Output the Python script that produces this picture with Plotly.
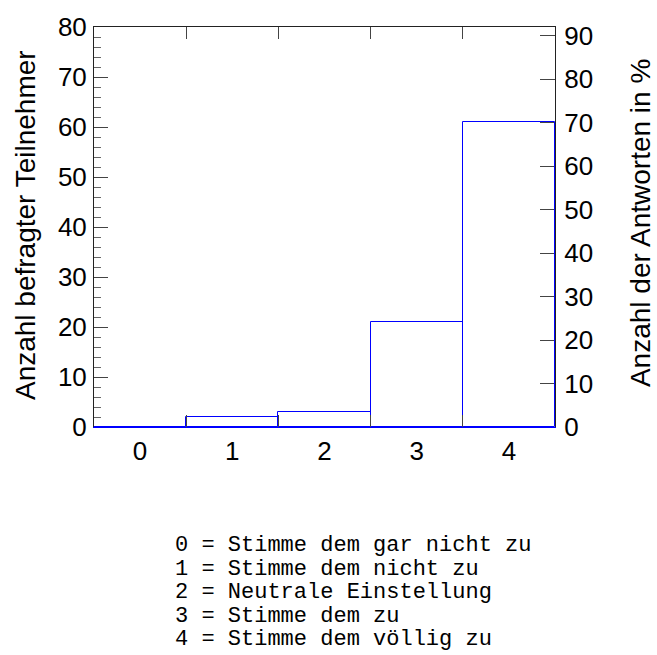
import plotly.graph_objects as go

# ---- data ----
categories = [0, 1, 2, 3, 4]
counts = [0, 2, 3, 21, 61]
category_labels = ["0", "1", "2", "3", "4"]
bin_edges = [0.5, 1.5, 2.5, 3.5]
legend_lines = [
    "0 = Stimme dem gar nicht zu",
    "1 = Stimme dem nicht zu",
    "2 = Neutrale Einstellung",
    "3 = Stimme dem zu",
    "4 = Stimme dem völlig zu",
]
y_title_left = "Anzahl befragter Teilnehmer"
y_title_right = "Anzahl der Antworten in %"

total = sum(counts)
y_max = 80
pct_max = y_max / total * 100
percents = [c / total * 100 for c in counts]

# ---- layout geometry ----
W, H = 657, 655
L, R, T, B = 94, 102, 19, 228
plot_w = W - L - R
plot_h = H - T - B

BLUE = "#0000ff"
SANS = "Liberation Sans, Arial, sans-serif"
MONO = "Courier New, Liberation Mono, monospace"
TICK_SIZE = 26

fig = go.Figure()
fig.add_trace(go.Bar(
    x=categories, y=counts, width=1,
    marker=dict(color="rgba(0,0,0,0)", line=dict(color=BLUE, width=1)),
    showlegend=False, hoverinfo="skip",
))
fig.add_trace(go.Scatter(x=categories, y=percents, xaxis="x", yaxis="y2",
                         mode="none", showlegend=False, hoverinfo="skip"))
fig.add_trace(go.Scatter(x=categories, y=counts, xaxis="x2", yaxis="y",
                         mode="none", showlegend=False, hoverinfo="skip"))

fig.update_layout(
    width=W, height=H, autosize=False,
    margin=dict(l=L, r=R, t=T, b=B, pad=0),
    paper_bgcolor="white", plot_bgcolor="white",
    bargap=0,
    font=dict(family=SANS, color="black"),
    xaxis=dict(
        range=[-0.5, 4.5], tickmode="array", tickvals=categories, ticktext=category_labels,
        ticks="", showgrid=False, zeroline=False,
        showline=True, linecolor=BLUE, linewidth=1,
        tickfont=dict(family=SANS, size=TICK_SIZE, color="black"),
        ticklabelstandoff=1,
        minor=dict(tickmode="array", tickvals=bin_edges, ticks="inside", ticklen=12,
                   tickcolor="#444", tickwidth=1, showgrid=False),
    ),
    xaxis2=dict(
        range=[-0.5, 4.5], overlaying="x", anchor="y", side="top",
        tickmode="array", tickvals=bin_edges, ticks="inside", ticklen=12,
        tickcolor="#444", tickwidth=1, showticklabels=False,
        showgrid=False, zeroline=False, showline=True, linecolor="#222", linewidth=1,
    ),
    yaxis=dict(
        range=[0, y_max], tickmode="linear", tick0=0, dtick=10,
        ticks="inside", ticklen=14, tickcolor="#444", tickwidth=1,
        showgrid=False, zeroline=False, showline=True, linecolor="#222", linewidth=1,
        tickfont=dict(family=SANS, size=TICK_SIZE, color="black"),
        ticklabelstandoff=1,
        minor=dict(dtick=2, ticks="inside", ticklen=7, tickcolor="#666", tickwidth=1, showgrid=False),
    ),
    yaxis2=dict(
        range=[0, pct_max], overlaying="y", anchor="x", side="right",
        tickmode="linear", tick0=0, dtick=10,
        ticks="inside", ticklen=15, tickcolor="#444", tickwidth=1,
        showgrid=False, zeroline=False, showline=True, linecolor="#222", linewidth=1,
        tickfont=dict(family=SANS, size=TICK_SIZE, color="black"),
        ticklabelstandoff=3, layer="below traces",
    ),
)

annotations = [
    dict(text=y_title_left, textangle=-90, xref="paper", yref="paper",
         x=(25 - L) / plot_w, y=(H - B - 221) / plot_h, xanchor="center", yanchor="middle",
         showarrow=False, font=dict(family=SANS, size=28, color="black")),
    dict(text=y_title_right, textangle=-90, xref="paper", yref="paper",
         x=(640 - L) / plot_w, y=(H - B - 219) / plot_h, xanchor="center", yanchor="middle",
         showarrow=False, font=dict(family=SANS, size=28, color="black")),
]
line_start, line_step = 548, 24
for i, txt in enumerate(legend_lines):
    cy = line_start + i * line_step
    annotations.append(dict(
        text=txt, xref="paper", yref="paper",
        x=(173 - L) / plot_w, y=-(cy - (H - B)) / plot_h,
        xanchor="left", yanchor="middle", showarrow=False,
        font=dict(family=MONO, size=22, color="black"),
    ))
fig.update_layout(annotations=annotations)

fig.write_html("out.html")
